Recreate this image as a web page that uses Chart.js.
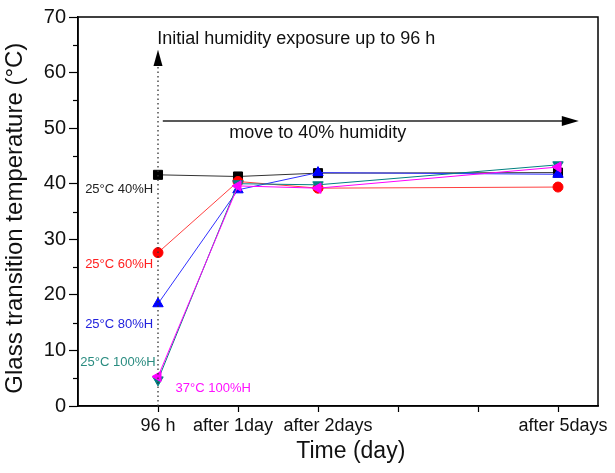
<!DOCTYPE html>
<html>
<head>
<meta charset="utf-8">
<script src="https://cdn.jsdelivr.net/npm/chart.js@4"></script>
<style>
  html, body { margin: 0; padding: 0; background: #fff; }
  #wrap { width: 615px; height: 473px; }
</style>
</head>
<body>
<div id="wrap"><canvas id="tgChart" width="615" height="473"></canvas></div>
<script>
// ----- DATA -----
const timeValues = [0, 1, 2, 5];
const tickNames = ['96 h', 'after 1day', 'after 2days', 'after 5days'];
const seriesNames = ['25°C 40%H', '25°C 60%H', '25°C 80%H', '25°C 100%H', '37°C 100%H'];
const tg25c40 = [41.6, 41.3, 41.9, 42.0];
const tg25c60 = [27.6, 40.4, 39.2, 39.4];
const tg25c80 = [18.4, 38.9, 42.0, 41.7];
const tg25c100 = [4.7, 40.0, 39.8, 43.4];
const tg37c100 = [5.3, 39.6, 39.2, 43.0];
const yTicks = [0, 10, 20, 30, 40, 50, 60, 70];

const FONT = '"Liberation Sans", Arial, sans-serif';

// the original tick labels sit a little off-centre; pad with spaces to nudge them
const tickPad = [['', ''], ['', '  '], ['    ', ''], ['  ', '']];

// style per series (same order as seriesNames)
const styles = [
    { color: '#000000', line: '#333333', shape: 'rect', radius: 6.4, rot: 0, text: '#222222' },
    { color: '#ff0000', line: '#ff4040', shape: 'circle', radius: 5, rot: 0, text: '#ff2020' },
    { color: '#0000ff', line: '#3030ff', shape: 'triangle', radius: 6, rot: 0, text: '#2222dd' },
    { color: '#008080', line: '#008080', shape: 'triangle', radius: 6, rot: 180, text: '#2a8c80' },
    { color: '#ff00ff', line: '#ff00ff', shape: 'triangle', radius: 6, rot: -90, text: '#ff10ff' }
];
const seriesValues = [tg25c40, tg25c60, tg25c80, tg25c100, tg37c100];

// label placement in data units: [x, y, align]
const labelSpots = [
    [-0.06, 39.0, 'right'],
    [-0.06, 25.4, 'right'],
    [-0.06, 14.6, 'right'],
    [-0.03, 7.9, 'right'],
    [0.22, 3.2, 'left']
];

const datasets = seriesValues.map((vals, i) => ({
    label: seriesNames[i],
    data: vals.map((v, k) => ({ x: timeValues[k], y: v })),
    borderColor: styles[i].line,
    backgroundColor: styles[i].color,
    pointBackgroundColor: styles[i].color,
    pointBorderColor: styles[i].color,
    pointStyle: styles[i].shape,
    pointRadius: styles[i].radius,
    pointRotation: styles[i].rot,
    borderWidth: 1,
    pointBorderWidth: 1,
    tension: 0,
    order: seriesValues.length - i
}));

// ----- EXTRA DRAWING -----
const extras = {
    id: 'extras',
    afterDatasetsDraw(chart) {
        const { ctx, chartArea: a, scales: { x, y } } = chart;
        ctx.save();

        // frame
        ctx.strokeStyle = '#000';
        ctx.lineWidth = 1.5;
        ctx.strokeRect(a.left, a.top, a.right - a.left, a.bottom - a.top);

        // minor y ticks
        ctx.lineWidth = 1.2;
        for (let v = 5; v < 70; v += 10) {
            const py = Math.round(y.getPixelForValue(v)) + 0.5;
            ctx.beginPath();
            ctx.moveTo(a.left - 5, py);
            ctx.lineTo(a.left, py);
            ctx.stroke();
        }

        // dotted vertical arrow at 96 h
        const vx = x.getPixelForValue(0);
        const baseY = y.getPixelForValue(61.2);
        const tipY = y.getPixelForValue(64.1);
        ctx.strokeStyle = '#333';
        ctx.lineWidth = 1.3;
        ctx.setLineDash([1.5, 3]);
        ctx.beginPath();
        ctx.moveTo(vx, y.getPixelForValue(0));
        ctx.lineTo(vx, baseY);
        ctx.stroke();
        ctx.setLineDash([]);
        ctx.fillStyle = '#000';
        ctx.beginPath();
        ctx.moveTo(vx, tipY);
        ctx.lineTo(vx - 4.5, baseY);
        ctx.lineTo(vx + 4.5, baseY);
        ctx.closePath();
        ctx.fill();

        // horizontal arrow
        const hy = y.getPixelForValue(51.3);
        const hx0 = x.getPixelForValue(0.06);
        const hTip = x.getPixelForValue(5.26);
        ctx.strokeStyle = '#222';
        ctx.lineWidth = 1.5;
        ctx.beginPath();
        ctx.moveTo(hx0, hy);
        ctx.lineTo(hTip - 16, hy);
        ctx.stroke();
        ctx.beginPath();
        ctx.moveTo(hTip, hy);
        ctx.lineTo(hTip - 17, hy - 5);
        ctx.lineTo(hTip - 17, hy + 5);
        ctx.closePath();
        ctx.fill();

        // annotation texts
        ctx.fillStyle = '#111';
        ctx.font = '18px ' + FONT;
        ctx.textAlign = 'left';
        ctx.textBaseline = 'middle';
        ctx.fillText('Initial humidity exposure up to 96 h', x.getPixelForValue(-0.01), y.getPixelForValue(66.1));
        ctx.fillText('move to 40% humidity', x.getPixelForValue(0.89), y.getPixelForValue(49.2));

        // series labels
        ctx.font = '13px ' + FONT;
        seriesNames.forEach((name, i) => {
            const [lx, ly, al] = labelSpots[i];
            ctx.fillStyle = styles[i].text;
            ctx.textAlign = al;
            ctx.fillText(name, x.getPixelForValue(lx), y.getPixelForValue(ly));
        });

        ctx.restore();
    }
};

// ----- CHART -----
new Chart(document.getElementById('tgChart'), {
    type: 'line',
    data: { datasets },
    options: {
        responsive: false,
        animation: false,
        layout: { padding: { left: 0, top: 17, right: 17, bottom: 0 } },
        plugins: { legend: { display: false }, tooltip: { enabled: false } },
        scales: {
            x: {
                type: 'linear',
                min: -1,
                max: 5.5,
                afterFit(scale) { scale.height = 67; },
                afterBuildTicks(scale) {
                    scale.ticks = [-1, 0, 1, 2, 3, 4, 5].map(v => ({ value: v }));
                },
                ticks: {
                    color: '#111',
                    font: { size: 18, family: FONT },
                    padding: 3,
                    maxRotation: 0,
                    autoSkip: false,
                    callback: (v) => {
                        const k = timeValues.indexOf(v);
                        return k >= 0 ? tickPad[k][0] + tickNames[k] + tickPad[k][1] : '';
                    }
                },
                grid: {
                    drawOnChartArea: false,
                    tickLength: 6,
                    tickWidth: 1.2,
                    tickColor: (c) => (c.tick && c.tick.value < 0) ? 'rgba(0,0,0,0)' : '#000'
                },
                border: { color: '#000', width: 1.5 },
                title: {
                    display: true,
                    text: '    Time (day)',
                    color: '#111',
                    font: { size: 23, family: FONT },
                    padding: { top: 0, bottom: 8 }
                }
            },
            y: {
                min: 0,
                max: 70,
                afterFit(scale) { scale.width = 78; },
                afterBuildTicks(scale) {
                    scale.ticks = yTicks.map(v => ({ value: v }));
                },
                ticks: {
                    color: '#111',
                    font: { size: 20, family: FONT },
                    padding: 3
                },
                grid: {
                    drawOnChartArea: false,
                    tickLength: 9,
                    tickWidth: 1.2,
                    tickColor: '#000'
                },
                border: { color: '#000', width: 1.5 },
                title: {
                    display: true,
                    text: 'Glass transition temperature (°C)  ',
                    color: '#111',
                    font: { size: 24, family: FONT },
                    padding: { top: 1, bottom: 1 }
                }
            }
        }
    },
    plugins: [extras]
});
</script>
</body>
</html>
